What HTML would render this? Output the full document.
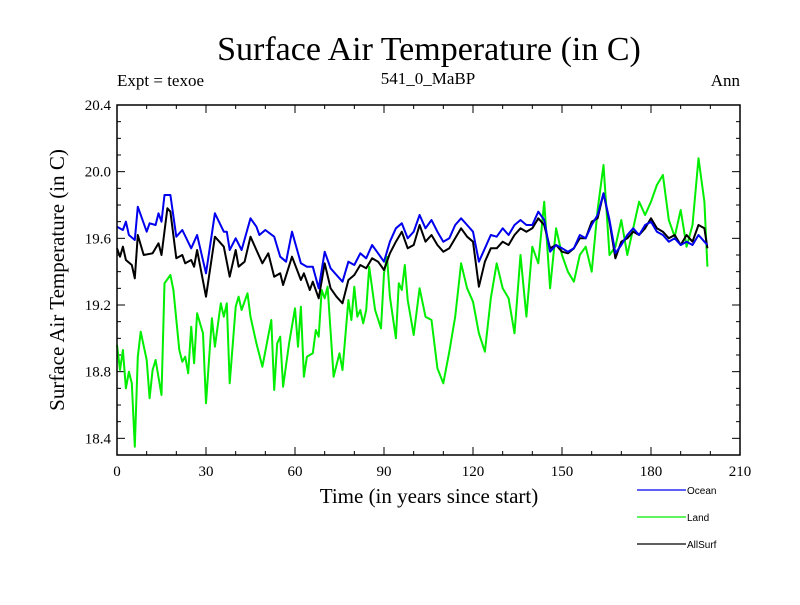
<!DOCTYPE html>
<html><head><meta charset="utf-8"><style>
body{margin:0;background:#fff;}
svg text{font-family:"Liberation Serif",serif;}
</style></head><body>
<svg id="chart" width="800" height="600" xmlns="http://www.w3.org/2000/svg">
<rect width="800" height="600" fill="#fff"/>
<text x="429" y="60" font-size="34" text-anchor="middle">Surface Air Temperature (in C)</text>
<text x="117" y="86" font-size="17">Expt = texoe</text>
<text x="428" y="84" font-size="17" text-anchor="middle">541_0_MaBP</text>
<text x="740" y="86" font-size="17" text-anchor="end">Ann</text>
<text x="429" y="503" font-size="21" text-anchor="middle">Time (in years since start)</text>
<text transform="translate(64,280) rotate(-90)" font-size="21" text-anchor="middle">Surface Air Temperature (in C)</text>
<g id="axes"></g>
<g id="series"></g>
<g id="legend"></g>
<rect x="117" y="105" width="623" height="350" fill="none" stroke="#000" stroke-width="1.5"/>
</svg>
<script>
const oceanYears = [0,2,3,4,6,7,10,11,13,14,15,16,18,20,22,25,27,30,33,36,37,38,40,42,45,47,48,50,53,55,57,59,62,64,66,68,70,72,74,76,78,80,82,84,86,88,90,92,94,96,98,100,102,104,106,108,110,112,114,116,118,120,122,124,126,128,130,132,134,136,138,140,142,144,146,148,150,152,154,156,158,160,162,164,166,168,170,172,174,176,178,180,182,184,186,188,190,192,194,196,198,199];
const ocean = [19.67,19.65,19.70,19.62,19.59,19.79,19.64,19.69,19.68,19.75,19.70,19.86,19.86,19.61,19.65,19.54,19.62,19.39,19.75,19.64,19.64,19.53,19.60,19.53,19.72,19.67,19.62,19.65,19.61,19.49,19.46,19.64,19.45,19.43,19.43,19.30,19.52,19.42,19.38,19.34,19.46,19.44,19.51,19.48,19.56,19.51,19.46,19.58,19.66,19.69,19.60,19.64,19.74,19.66,19.71,19.64,19.58,19.60,19.68,19.72,19.68,19.64,19.46,19.54,19.62,19.61,19.66,19.62,19.68,19.71,19.68,19.68,19.76,19.71,19.52,19.56,19.54,19.52,19.54,19.62,19.60,19.68,19.74,19.87,19.71,19.51,19.56,19.62,19.66,19.62,19.68,19.70,19.64,19.62,19.58,19.60,19.56,19.58,19.56,19.62,19.58,19.56];
const landYears = [0,1,2,3,4,5,6,7,8,10,11,12,13,15,16,18,19,21,22,23,24,25,26,27,29,30,32,33,35,36,37,38,40,41,42,44,45,47,49,52,53,54,55,56,58,60,61,62,63,64,66,67,68,69,70,71,73,75,76,78,79,80,81,82,83,84,85,87,89,90,91,92,94,95,96,97,98,100,102,104,106,108,110,112,114,116,118,120,122,124,126,128,130,132,134,136,138,140,142,144,146,148,150,152,154,156,158,160,162,164,166,168,170,172,174,176,178,180,182,184,186,188,190,192,194,196,198,199];
const land = [18.96,18.81,18.93,18.70,18.80,18.73,18.35,18.89,19.04,18.87,18.64,18.81,18.87,18.66,19.33,19.38,19.29,18.93,18.86,18.89,18.79,19.07,18.85,19.15,19.03,18.61,19.12,18.95,19.21,19.13,19.21,18.73,19.19,19.25,19.17,19.27,19.13,18.97,18.83,19.11,18.69,18.97,19.01,18.71,18.97,19.18,18.95,19.19,18.77,18.89,18.91,19.05,19.01,19.29,19.24,19.31,18.77,18.91,18.81,19.23,19.11,19.31,19.13,19.17,19.09,19.17,19.43,19.17,19.06,19.39,19.49,19.25,19.00,19.33,19.29,19.44,19.23,19.02,19.30,19.13,19.11,18.82,18.73,18.92,19.13,19.45,19.30,19.22,19.03,18.92,19.24,19.45,19.30,19.24,19.03,19.50,19.13,19.55,19.45,19.82,19.30,19.66,19.50,19.40,19.34,19.50,19.55,19.40,19.77,20.04,19.50,19.55,19.71,19.50,19.66,19.82,19.74,19.82,19.92,19.98,19.71,19.61,19.77,19.55,19.68,20.08,19.82,19.43];
const allYears = [0,1,2,3,5,6,7,9,12,14,15,17,18,20,22,23,25,26,27,30,33,36,38,40,41,43,45,47,49,51,53,55,56,59,62,63,65,66,68,70,72,74,76,78,80,82,84,86,88,90,92,94,96,98,100,102,104,106,108,110,112,114,116,118,120,122,124,126,128,130,132,134,136,138,140,142,144,146,148,150,152,154,156,158,160,162,164,166,168,170,172,174,176,178,180,182,184,186,188,190,192,194,196,198,199];
const allsurf = [19.54,19.49,19.55,19.47,19.44,19.36,19.62,19.50,19.51,19.57,19.50,19.78,19.76,19.48,19.50,19.45,19.47,19.43,19.53,19.25,19.61,19.55,19.37,19.53,19.43,19.46,19.61,19.53,19.45,19.51,19.37,19.39,19.32,19.49,19.35,19.39,19.29,19.34,19.24,19.45,19.30,19.25,19.21,19.35,19.38,19.44,19.42,19.48,19.46,19.41,19.51,19.58,19.64,19.54,19.56,19.68,19.58,19.62,19.56,19.52,19.54,19.60,19.66,19.61,19.58,19.31,19.46,19.54,19.54,19.58,19.56,19.62,19.66,19.64,19.66,19.72,19.68,19.54,19.56,19.52,19.51,19.54,19.60,19.60,19.70,19.72,19.87,19.70,19.48,19.58,19.60,19.64,19.62,19.66,19.72,19.66,19.64,19.60,19.62,19.56,19.62,19.58,19.68,19.66,19.54];
const xTicks = [0,30,60,90,120,150,180,210];
const yTicks = [18.4,18.8,19.2,19.6,20.0,20.4];
const NS="http://www.w3.org/2000/svg";
const X0=117,X1=740,Y0=455,Y1=105,YMIN=18.3,YMAX=20.4;
function xs(v){return X0+(v-0)/(210-0)*(X1-X0);}
function ys(v){return Y0-(v-YMIN)/(YMAX-YMIN)*(Y0-Y1);}
function mk(tag,attrs,parent){const e=document.createElementNS(NS,tag);for(const k in attrs)e.setAttribute(k,attrs[k]);parent.appendChild(e);return e;}
const axes=document.getElementById('axes');
for(let t=0;t<=210;t+=10){
  const major=t%30===0;const L=major?8:4;
  const a=mk('line',{x1:xs(t),x2:xs(t),y1:Y0,y2:Y0-L,stroke:'#000'},axes);
  
  
  const b=mk('line',{x1:xs(t),x2:xs(t),y1:Y1,y2:Y1+L,stroke:'#000'},axes);
  
  
}
xTicks.forEach(t=>{const e=mk('text',{x:xs(t),y:Y0+21,'font-size':15,'text-anchor':'middle'},axes);e.textContent=t;
  
  });
for(let i=0;i<=21;i++){const v=YMIN+i*0.1;const major=(i-1)%4===0;const L=major?8:4;
  const a=mk('line',{x1:X0,x2:X0+L,y1:ys(v),y2:ys(v),stroke:'#000'},axes);
  
  
  const b=mk('line',{x1:X1,x2:X1-L,y1:ys(v),y2:ys(v),stroke:'#000'},axes);
  
  }
yTicks.forEach(v=>{const e=mk('text',{x:X0-6,y:ys(v)+5,'font-size':15,'text-anchor':'end'},axes);e.textContent=v.toFixed(1);
  
  });
const ser=document.getElementById('series');
function line(yrs,vals,color,name){const p=vals.map((v,i)=>xs(yrs[i]).toFixed(1)+','+ys(v).toFixed(1)).join(' ');
  const e=mk('polyline',{points:p,fill:'none',stroke:color,'stroke-width':2,'stroke-linejoin':'round'},ser);
  
  }
line(landYears,land,'#00ee00','land-line');
line(allYears,allsurf,'#000000','allsurf-line');
line(oceanYears,ocean,'#0000ee','ocean-line');
const leg=document.getElementById('legend');
[['Ocean','#0000ee',490],['Land','#00ee00',517],['AllSurf','#000',544]].forEach(([n,c,y])=>{
  const g=mk('g',{},leg);
  
  
  mk('line',{x1:637,x2:686,y1:y,y2:y,stroke:c,'stroke-width':1.2},g);
  const t=mk('text',{x:687,y:y+4,'font-size':10,style:'font-family:"Liberation Sans",sans-serif'},g);t.textContent=n;});
</script>
</body></html>
